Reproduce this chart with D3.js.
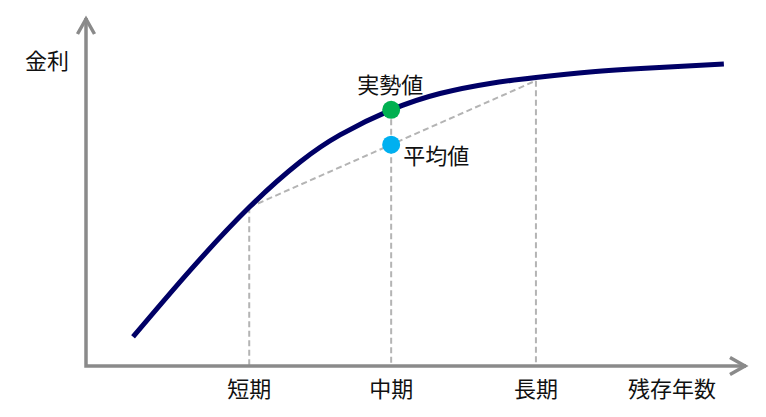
<!DOCTYPE html>
<html>
<head>
<meta charset="utf-8">
<script src="https://cdn.jsdelivr.net/npm/d3@7"></script>
<style>
  body { margin: 0; background: #fff; }
  text { font-family: "Noto Sans CJK JP", "Noto Sans", sans-serif; fill: #111; }
</style>
</head>
<body>
<div id="chart"></div>
<script>
// yield curve (years, rate)
var curveYears = [0.91, 2.91, 5.0, 6.79, 8.2, 10.0, 11.72, 13.48, 15.1, 17.0, 19.12, 21.72];
var curveRates = [0.42, 1.37, 2.28, 2.93, 3.32, 3.68, 3.915, 4.06, 4.145, 4.224, 4.282, 4.339];

var tickYears = [5, 10, 15.1];
var tickLabels = ['短期', '中期', '長期'];
var tickRates = [2.28, 3.68, 4.10];   // where each vertical guide starts
var avgRate = 3.18;                    // 平均値 at 中期

var width = 766, height = 417;

var x = d3.scaleLinear().domain([-0.75, 22.5]).range([86, 746]);
var y = d3.scaleLinear().domain([0, 5]).range([366, 18]);

var svg = d3.select('#chart').append('svg')
  .attr('width', width)
  .attr('height', height);

var axisColor = '#8a8a8a';
var dashColor = '#b4b4b4';

// dashed guides
tickYears.forEach(function(t, i){
  svg.append('line')
    .attr('x1', x(t)).attr('x2', x(t))
    .attr('y1', y(tickRates[i])).attr('y2', y(0))
    .attr('stroke', dashColor)
    .attr('stroke-width', 2)
    .attr('stroke-dasharray', '6,3.5');
});
svg.append('line')
  .attr('x1', x(tickYears[0])).attr('y1', y(tickRates[0]))
  .attr('x2', x(tickYears[2])).attr('y2', y(tickRates[2]))
  .attr('stroke', dashColor)
  .attr('stroke-width', 2)
  .attr('stroke-dasharray', '6,3.5');

// axes with open arrow heads
var x0 = x.range()[0], y0 = y.range()[0];
var xEnd = x.range()[1], yEnd = y.range()[1];
svg.append('path')
  .attr('d', 'M' + x0 + ',' + yEnd + 'V' + y0 + 'H' + xEnd)
  .attr('fill', 'none')
  .attr('stroke', axisColor)
  .attr('stroke-width', 3.5);
svg.append('path')
  .attr('d', 'M' + (x0 - 8.5) + ',' + (yEnd + 16) + 'L' + x0 + ',' + (yEnd + 1) + 'L' + (x0 + 8.5) + ',' + (yEnd + 16))
  .attr('fill', 'none')
  .attr('stroke', axisColor)
  .attr('stroke-width', 3.5);
svg.append('path')
  .attr('d', 'M' + (xEnd - 16) + ',' + (y0 - 8.5) + 'L' + (xEnd - 1) + ',' + y0 + 'L' + (xEnd - 16) + ',' + (y0 + 8.5))
  .attr('fill', 'none')
  .attr('stroke', axisColor)
  .attr('stroke-width', 3.5);

// yield curve
var data = curveYears.map(function(d, i){ return { t: d, r: curveRates[i] }; });
var line = d3.line()
  .x(function(d){ return x(d.t); })
  .y(function(d){ return y(d.r); })
  .curve(d3.curveNatural);

svg.append('path')
  .attr('d', line(data))
  .attr('fill', 'none')
  .attr('stroke', '#000066')
  .attr('stroke-width', 5);

// points
svg.append('circle')
  .attr('cx', x(tickYears[1])).attr('cy', y(tickRates[1]))
  .attr('r', 9)
  .attr('fill', '#00b050');
svg.append('circle')
  .attr('cx', x(tickYears[1])).attr('cy', y(avgRate))
  .attr('r', 9)
  .attr('fill', '#00b0f0');

// labels
tickLabels.forEach(function(l, i){
  svg.append('text')
    .attr('x', x(tickYears[i]))
    .attr('y', y0 + 31)
    .style('text-anchor', 'middle')
    .style('font-size', '22px')
    .text(l);
});
svg.append('text')
  .attr('x', 672)
  .attr('y', y0 + 31)
  .style('text-anchor', 'middle')
  .style('font-size', '22px')
  .text('残存年数');
svg.append('text')
  .attr('x', 47)
  .attr('y', 69)
  .style('text-anchor', 'middle')
  .style('font-size', '22px')
  .text('金利');
svg.append('text')
  .attr('x', x(tickYears[1]) - 1)
  .attr('y', y(tickRates[1]) - 17)
  .style('text-anchor', 'middle')
  .style('font-size', '22px')
  .text('実勢値');
svg.append('text')
  .attr('x', x(tickYears[1]) + 12)
  .attr('y', y(avgRate) + 19)
  .style('text-anchor', 'start')
  .style('font-size', '22px')
  .text('平均値');
</script>
</body>
</html>
